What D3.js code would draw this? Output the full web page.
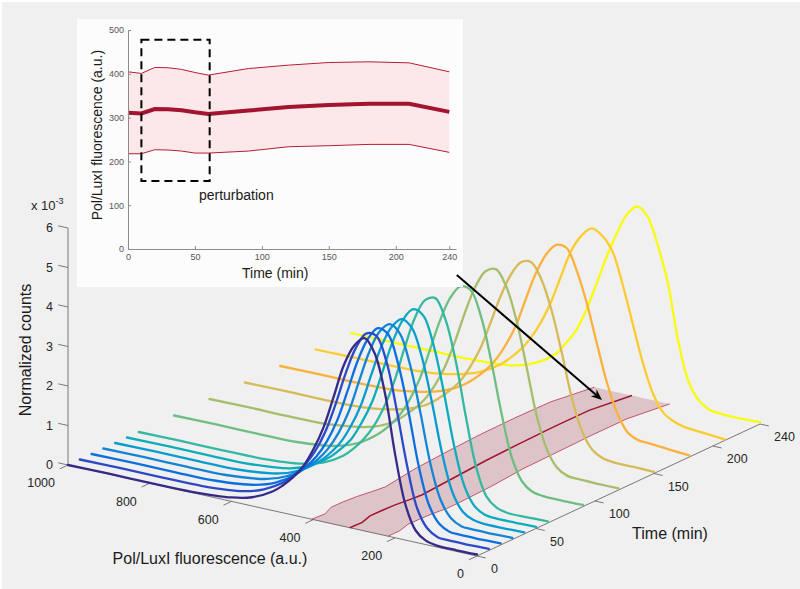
<!DOCTYPE html>
<html>
<head>
<meta charset="utf-8">
<script src="https://cdn.jsdelivr.net/npm/d3@7"></script>
<style>
  html, body { margin: 0; padding: 0; background: #ffffff; }
  svg { display: block; font-family: "Liberation Sans", Arial, Helvetica, sans-serif; }
</style>
</head>
<body>
<svg id="chart" width="800" height="589"></svg>
<script>
// ---------------- data ----------------
// fluorescence bins (a.u.) at which each histogram is sampled
const fluorGrid = [0, 50, 100, 125, 150, 175, 200, 225, 250, 275, 300, 325, 350, 375, 400, 425, 450, 475, 500, 550, 600, 700, 800, 900, 1000];
// sampling times (min)
const timePoints = [0, 10, 20, 30, 40, 50, 60, 90, 120, 150, 180, 210, 240];
// normalized counts (x 10^-3), one histogram per time point
const counts_t0   = [0.04, 0.03, 0.04, 0.10, 0.30, 0.90, 2.10, 3.60, 4.55, 4.88, 4.64, 4.10, 3.24, 2.40, 1.78, 1.29, 0.95, 0.69, 0.48, 0.22, 0.10, 0.02, 0.01, 0.01, 0.00];
const counts_t10  = [0.04, 0.03, 0.03, 0.05, 0.21, 0.66, 1.70, 3.03, 4.20, 4.80, 4.80, 4.38, 3.68, 2.83, 2.08, 1.53, 1.13, 0.82, 0.58, 0.28, 0.12, 0.02, 0.01, 0.01, 0.00];
const counts_t20  = [0.04, 0.03, 0.03, 0.05, 0.19, 0.61, 1.53, 2.85, 3.99, 4.70, 4.80, 4.46, 3.84, 3.01, 2.22, 1.64, 1.21, 0.89, 0.64, 0.31, 0.14, 0.02, 0.01, 0.01, 0.00];
const counts_t30  = [0.04, 0.03, 0.03, 0.05, 0.19, 0.59, 1.44, 2.70, 3.84, 4.58, 4.76, 4.51, 3.94, 3.14, 2.32, 1.72, 1.27, 0.94, 0.69, 0.34, 0.15, 0.02, 0.01, 0.01, 0.00];
const counts_t40  = [0.04, 0.03, 0.03, 0.07, 0.22, 0.64, 1.55, 2.79, 3.90, 4.59, 4.75, 4.48, 3.92, 3.13, 2.32, 1.73, 1.27, 0.95, 0.69, 0.34, 0.15, 0.02, 0.01, 0.01, 0.00];
const counts_t50  = [0.04, 0.03, 0.03, 0.06, 0.22, 0.67, 1.63, 2.92, 4.05, 4.75, 4.86, 4.54, 3.93, 3.11, 2.30, 1.72, 1.25, 0.94, 0.68, 0.33, 0.14, 0.02, 0.01, 0.01, 0.00];
const counts_t60  = [0.04, 0.03, 0.03, 0.10, 0.33, 1.01, 2.22, 3.58, 4.57, 5.06, 4.95, 4.44, 3.63, 2.73, 2.02, 1.48, 1.09, 0.79, 0.55, 0.26, 0.12, 0.02, 0.01, 0.01, 0.00];
const counts_t90  = [0.04, 0.03, 0.04, 0.09, 0.30, 0.86, 1.92, 3.18, 4.25, 4.84, 4.88, 4.53, 3.90, 3.09, 2.30, 1.71, 1.26, 0.94, 0.69, 0.34, 0.15, 0.02, 0.01, 0.01, 0.00];
const counts_t120 = [0.04, 0.04, 0.05, 0.07, 0.22, 0.62, 1.42, 2.61, 3.74, 4.53, 4.90, 4.79, 4.34, 3.64, 2.83, 2.13, 1.60, 1.19, 0.90, 0.46, 0.22, 0.04, 0.01, 0.01, 0.00];
const counts_t150 = [0.04, 0.05, 0.06, 0.10, 0.25, 0.65, 1.43, 2.53, 3.55, 4.28, 4.66, 4.60, 4.22, 3.62, 2.88, 2.17, 1.65, 1.23, 0.94, 0.50, 0.26, 0.05, 0.01, 0.01, 0.00];
const counts_t180 = [0.04, 0.08, 0.12, 0.14, 0.27, 0.68, 1.38, 2.32, 3.30, 4.08, 4.60, 4.62, 4.32, 3.79, 3.07, 2.32, 1.78, 1.35, 1.03, 0.57, 0.30, 0.06, 0.01, 0.01, 0.00];
const counts_t210 = [0.03, 0.07, 0.12, 0.20, 0.36, 0.78, 1.51, 2.45, 3.40, 4.17, 4.50, 4.62, 4.38, 3.94, 3.24, 2.52, 1.94, 1.49, 1.14, 0.65, 0.35, 0.08, 0.02, 0.01, 0.00];
const counts_t240 = [0.05, 0.03, 0.04, 0.08, 0.26, 0.68, 1.64, 3.04, 3.95, 4.62, 4.82, 4.56, 4.02, 3.37, 2.62, 1.90, 1.33, 0.95, 0.62, 0.28, 0.10, 0.01, 0.00, 0.00, 0.00];
const histograms = [counts_t0, counts_t10, counts_t20, counts_t30, counts_t40, counts_t50, counts_t60,
                    counts_t90, counts_t120, counts_t150, counts_t180, counts_t210, counts_t240];

// population statistics over time (a.u.)
const meanFluor  = [311, 309.5, 319.4, 319, 317, 312, 308, 316, 324, 328.5, 331.5, 331.5, 313];
const upperFluor = [404.6, 400.8, 414.5, 413.8, 410, 403, 397, 412, 419.8, 425.8, 427.4, 425, 404.6];
const lowerFluor = [217.5, 217.5, 226.6, 226, 223.6, 219, 219, 223.6, 233.5, 235.8, 238.8, 238.8, 220.6];

// tick labels
const fluorTicks = [0, 200, 400, 600, 800, 1000];
const timeTicks = [0, 50, 100, 150, 200, 240];
const countTicks = [0, 1, 2, 3, 4, 5, 6];
const insetTimeTicks = [0, 50, 100, 150, 200, 240];
const insetFluorTicks = [0, 100, 200, 300, 400, 500];

// perturbation window (time, fluorescence) and arrow annotation (normalized figure units)
const perturbTime = [10, 61];
const perturbFluor = [155, 478];
const arrowX = [0.571, 0.7525];
const arrowY = [0.533, 0.321];

// parula-like line colours, one per time point
const lineColors = ["#352a87", "#2b4ac7", "#0a6fdf", "#1485d4", "#079ccf", "#0bacbc", "#33b8a1",
                    "#6ebe82", "#a5be6b", "#d5ba57", "#fbb13c", "#fbcc2d", "#f9fb0e"];

// ---------------- drawing ----------------
const W = 800, H = 589;
const svg = d3.select("#chart");
svg.append("rect").attr("width", W).attr("height", H).attr("fill", "#ffffff");
svg.append("rect").attr("x", 2).attr("y", 2).attr("width", W - 2).attr("height", H - 2).attr("fill", "#f0f0f0");

// orthographic 3-D view: each data axis maps to a screen vector
const origin = [477, 556];
const fVec = [-409, -91], tVec = [283, -132], zVec = [0, -237];
const fScale = d3.scaleLinear().domain([0, 1000]).range([0, 1]);
const tScale = d3.scaleLinear().domain([0, 240]).range([0, 1]);
const zScale = d3.scaleLinear().domain([0, 6]).range([0, 1]);
function project(f, t, z) {
  const a = fScale(f), b = tScale(t), c = zScale(z);
  return [origin[0] + a * fVec[0] + b * tVec[0] + c * zVec[0],
          origin[1] + a * fVec[1] + b * tVec[1] + c * zVec[1]];
}
const unit = v => { const l = Math.hypot(v[0], v[1]); return [v[0] / l, v[1] / l]; };
const fU = unit(fVec), tU = unit(tVec);

const axisColor = "#6b6b6b", tickText = "#262626";
const axes = svg.append("g");
function seg(p, q) {
  axes.append("line").attr("x1", p[0]).attr("y1", p[1]).attr("x2", q[0]).attr("y2", q[1])
    .attr("stroke", axisColor).attr("stroke-width", 0.9);
}
seg(project(0, 0, 0), project(1000, 0, 0));
seg(project(0, 0, 0), project(0, 240, 0));
seg(project(1000, 0, 0), project(1000, 0, 6));

// fluorescence axis ticks
fluorTicks.forEach(v => {
  const p = project(v, 0, 0);
  seg(p, [p[0] - tU[0] * 9, p[1] - tU[1] * 9]);
  axes.append("text").attr("x", p[0] - 13).attr("y", p[1] + 18).attr("dy", "0.35em")
    .attr("text-anchor", "end").attr("font-size", 12.5).attr("fill", tickText).text(v);
});
// time axis ticks
timeTicks.forEach(v => {
  const p = project(0, v, 0);
  seg(p, [p[0] - fU[0] * 9, p[1] - fU[1] * 9]);
  axes.append("text").attr("x", p[0] + 14).attr("y", p[1] + 13).attr("dy", "0.35em")
    .attr("text-anchor", "start").attr("font-size", 12.5).attr("fill", tickText).text(v);
});
// counts axis ticks
countTicks.forEach(v => {
  const p = project(1000, 0, v);
  seg(p, [p[0] + fU[0] * 10, p[1] + fU[1] * 10]);
  axes.append("text").attr("x", p[0] - 15).attr("y", p[1]).attr("dy", "0.35em")
    .attr("text-anchor", "end").attr("font-size", 12.5).attr("fill", tickText).text(v);
});
// exponent label
const expo = axes.append("text").attr("x", 31).attr("y", 210).attr("font-size", 13).attr("fill", tickText);
expo.append("tspan").text("x 10");
expo.append("tspan").attr("dy", -6).attr("font-size", 9).text("-3");

// axis titles
svg.append("text").attr("transform", "translate(31,350) rotate(-90)").attr("text-anchor", "middle")
  .attr("font-size", 16).attr("fill", "#1a1a1a").text("Normalized counts");
svg.append("text").attr("x", 210).attr("y", 564).attr("text-anchor", "middle")
  .attr("font-size", 16).attr("fill", "#1a1a1a").text("Pol/LuxI fluorescence (a.u.)");
svg.append("text").attr("x", 670).attr("y", 539).attr("text-anchor", "middle")
  .attr("font-size", 16).attr("fill", "#1a1a1a").text("Time (min)");

// band of the population spread on the floor plane
const floorLine = d3.line().x(d => d[0]).y(d => d[1]);
const upperPts = timePoints.map((t, i) => project(upperFluor[i], t, 0));
const lowerPts = timePoints.map((t, i) => project(lowerFluor[i], t, 0));
const meanPts = timePoints.map((t, i) => project(meanFluor[i], t, 0));
svg.append("path").attr("d", floorLine(upperPts.concat(lowerPts.slice().reverse())) + "Z")
  .attr("fill", "rgba(140,20,45,0.2)").attr("stroke", "none");
[upperPts, lowerPts].forEach(pts => svg.append("path").attr("d", floorLine(pts))
  .attr("fill", "none").attr("stroke", "#c0465e").attr("stroke-width", 0.9));
svg.append("path").attr("d", floorLine(meanPts)).attr("fill", "none")
  .attr("stroke", "#a2142f").attr("stroke-width", 1.5);

// histograms, drawn back to front
const histLine = d3.line().x(d => d[0]).y(d => d[1]).curve(d3.curveCatmullRom.alpha(0.5));
for (let i = timePoints.length - 1; i >= 0; i--) {
  const pts = fluorGrid.map((f, j) => project(f, timePoints[i], histograms[i][j])).reverse();
  svg.append("path").attr("d", histLine(pts)).attr("fill", "none")
    .attr("stroke", lineColors[i]).attr("stroke-width", 2.3)
    .attr("stroke-linejoin", "round").attr("stroke-linecap", "round");
}

// ---------------- inset ----------------
const inset = svg.append("g");
inset.append("rect").attr("x", 77).attr("y", 19).attr("width", 386).attr("height", 268).attr("fill", "#fcfcfc");
const ix = d3.scaleLinear().domain([0, 245]).range([128, 456]);
const iy = d3.scaleLinear().domain([0, 500]).range([249, 30]);

inset.append("path").datum(timePoints)
  .attr("d", d3.area().x(t => ix(t)).y0((t, i) => iy(lowerFluor[i])).y1((t, i) => iy(upperFluor[i])))
  .attr("fill", "#fde8e9");
const iLine = vals => d3.line().x(t => ix(t)).y((t, i) => iy(vals[i]))(timePoints);
inset.append("path").attr("d", iLine(upperFluor)).attr("fill", "none").attr("stroke", "#b51d37").attr("stroke-width", 1);
inset.append("path").attr("d", iLine(lowerFluor)).attr("fill", "none").attr("stroke", "#b51d37").attr("stroke-width", 1);
inset.append("path").attr("d", iLine(meanFluor)).attr("fill", "none").attr("stroke", "#a2142f").attr("stroke-width", 4);

const xAx = inset.append("g").attr("transform", `translate(0,${iy(0)})`)
  .call(d3.axisBottom(ix).tickValues(insetTimeTicks).tickSizeInner(-3).tickSizeOuter(0).tickPadding(5));
const yAx = inset.append("g").attr("transform", `translate(${ix(0)},0)`)
  .call(d3.axisLeft(iy).tickValues(insetFluorTicks).tickSizeInner(-3).tickSizeOuter(0).tickPadding(4));
[xAx, yAx].forEach(g => {
  g.select(".domain").attr("stroke", "#8c8c8c");
  g.selectAll(".tick line").attr("stroke", "#8c8c8c");
  g.selectAll(".tick text").attr("fill", "#555").attr("font-size", 9)
    .attr("font-family", "Liberation Sans, Arial, sans-serif");
});
inset.append("text").attr("x", ix(110)).attr("y", 278).attr("text-anchor", "middle")
  .attr("font-size", 14).attr("fill", "#1a1a1a").text("Time (min)");
inset.append("text").attr("transform", `translate(102,${iy(260)}) rotate(-90)`).attr("text-anchor", "middle")
  .attr("font-size", 14).attr("fill", "#1a1a1a").text("Pol/LuxI fluorescence (a.u.)");

inset.append("rect").attr("x", ix(perturbTime[0])).attr("y", iy(perturbFluor[1]))
  .attr("width", ix(perturbTime[1]) - ix(perturbTime[0])).attr("height", iy(perturbFluor[0]) - iy(perturbFluor[1]))
  .attr("fill", "none").attr("stroke", "#000").attr("stroke-width", 2).attr("stroke-dasharray", "8,5");
inset.append("text").attr("x", ix(53)).attr("y", iy(112)).attr("font-size", 14).attr("fill", "#1a1a1a").text("perturbation");

// ---------------- arrow annotation ----------------
const a0 = [arrowX[0] * W, (1 - arrowY[0]) * H], a1 = [arrowX[1] * W, (1 - arrowY[1]) * H];
const dir = unit([a1[0] - a0[0], a1[1] - a0[1]]), nrm = [-dir[1], dir[0]];
const headLen = 11, headW = 4.5;
const base = [a1[0] - dir[0] * headLen, a1[1] - dir[1] * headLen];
svg.append("line").attr("x1", a0[0]).attr("y1", a0[1]).attr("x2", base[0] + dir[0] * 3).attr("y2", base[1] + dir[1] * 3)
  .attr("stroke", "#000").attr("stroke-width", 2);
svg.append("path").attr("d", d3.line()([a1,
  [base[0] + nrm[0] * headW, base[1] + nrm[1] * headW],
  [a1[0] - dir[0] * headLen * 0.7, a1[1] - dir[1] * headLen * 0.7],
  [base[0] - nrm[0] * headW, base[1] - nrm[1] * headW]]) + "Z").attr("fill", "#000");
</script>
</body>
</html>
